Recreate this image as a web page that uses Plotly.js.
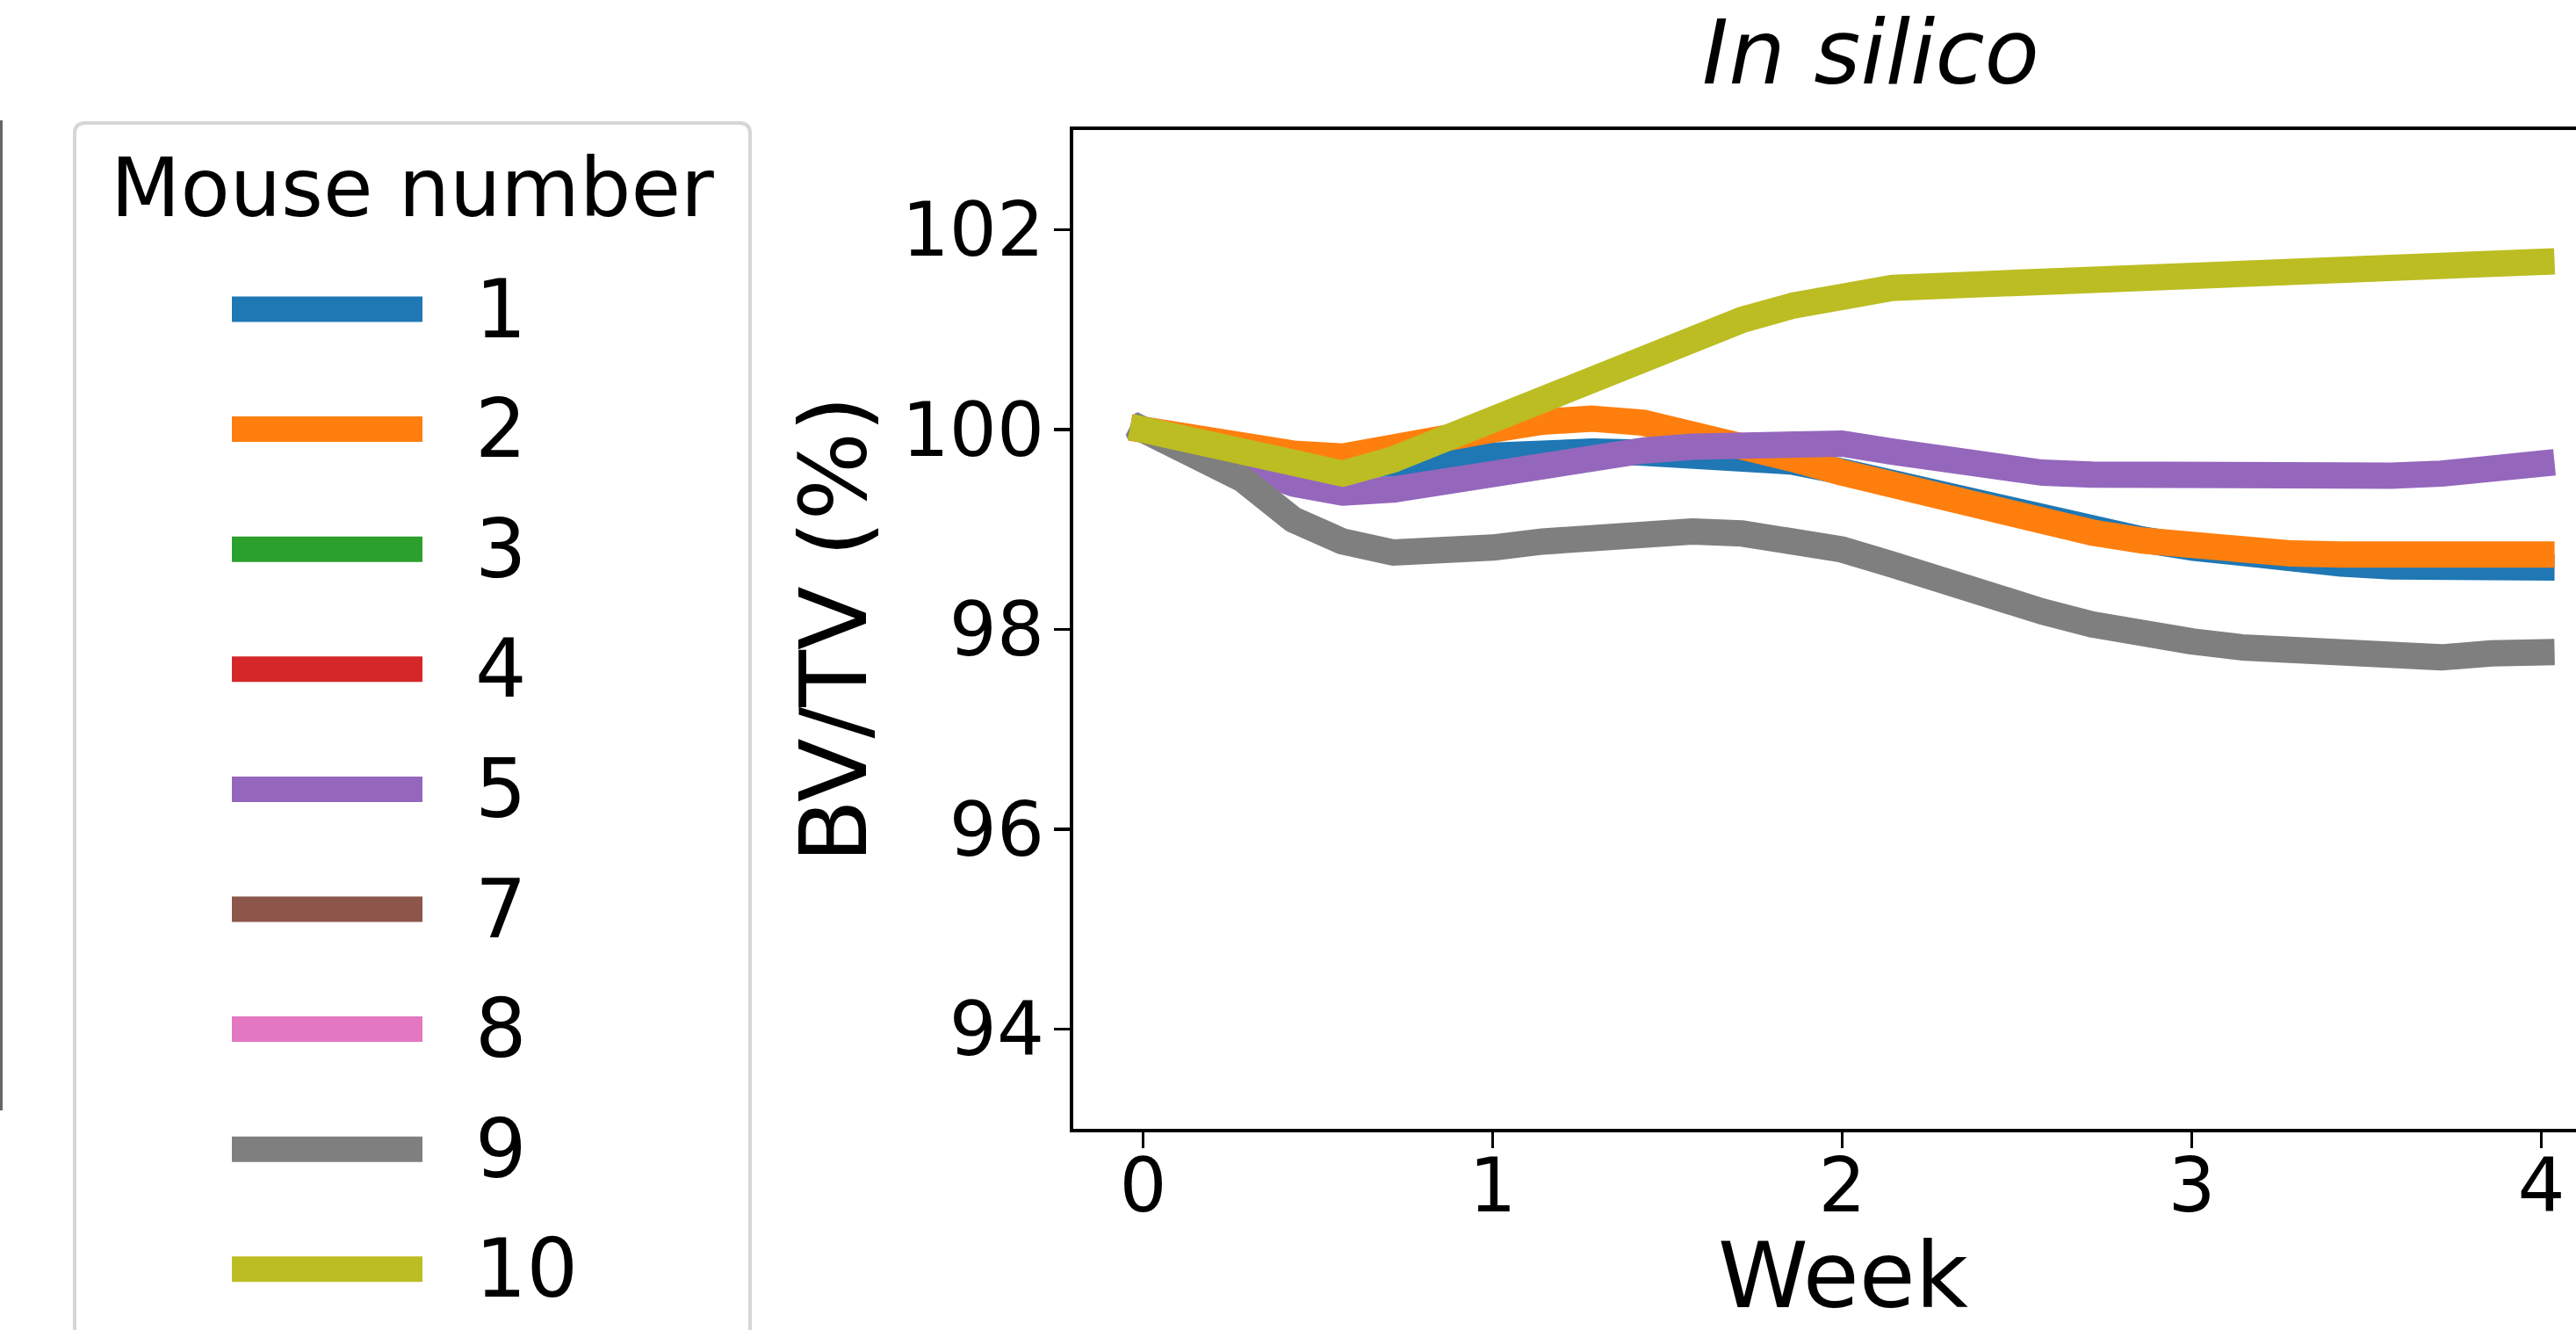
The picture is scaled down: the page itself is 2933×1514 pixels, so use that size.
<!DOCTYPE html>
<html><head><meta charset="utf-8">
<script src="https://cdn.plot.ly/plotly-3.0.1.min.js"></script>
<style>html,body{margin:0;padding:0;background:#fff;overflow:hidden}#chart{width:2933px;height:1514px}</style>
</head><body><div id="chart"></div>
<script>
// ---- data ----
const weeks = [0,0.143,0.286,0.429,0.571,0.714,0.857,1,1.143,1.286,1.429,1.571,1.714,1.857,2,2.143,2.286,2.429,2.571,2.714,2.857,3,3.143,3.286,3.429,3.571,3.714,3.857,4];
const mouse1 = [100.00,99.88,99.78,99.70,99.66,99.63,99.66,99.74,99.78,99.78,99.77,99.76,99.74,99.68,99.58,99.46,99.33,99.20,99.09,98.99,98.90,98.82,98.75,98.70,98.66,98.63,98.61,98.61,98.62];
const mouse2 = [100.00,99.90,99.83,99.76,99.73,99.80,99.92,100.00,100.08,100.11,100.07,99.97,99.85,99.71,99.57,99.44,99.31,99.18,99.06,98.97,98.89,98.83,98.79,98.76,98.75,98.74,98.73,98.74,98.75];
const mouse3 = []; // not visible in the reference
const mouse4 = []; // not visible in the reference
const mouse5 = [100.00,99.85,99.64,99.46,99.37,99.40,99.48,99.58,99.67,99.74,99.79,99.83,99.86,99.88,99.86,99.78,99.69,99.62,99.57,99.55,99.54,99.55,99.56,99.56,99.55,99.54,99.56,99.61,99.66];
const mouse7 = []; // not visible in the reference
const mouse8 = []; // not visible in the reference
const mouse9 = [100.00,99.78,99.50,99.10,98.88,98.77,98.78,98.82,98.88,98.93,98.97,98.98,98.96,98.89,98.80,98.65,98.48,98.33,98.18,98.05,97.95,97.88,97.82,97.78,97.75,97.73,97.72,97.76,97.77];
const mouse10 = [100.00,99.90,99.78,99.65,99.56,99.70,99.90,100.12,100.34,100.54,100.73,100.92,101.10,101.24,101.36,101.42,101.44,101.46,101.48,101.49,101.50,101.50,101.52,101.55,101.58,101.60,101.63,101.66,101.68];
const mouseIds = ['1','2','3','4','5','7','8','9','10'];
const mouseSeries = [mouse1,mouse2,mouse3,mouse4,mouse5,mouse7,mouse8,mouse9,mouse10];
const mouseColors = ['#1f77b4','#ff7f0e','#2ca02c','#d62728','#9467bd','#8c564b','#e377c2','#7f7f7f','#bcbd22'];
const xTicks = [0,1,2,3,4];
const yTicks = [94,96,98,100,102];
const titleText = 'In silico';
const xTitle = 'Week';
const yTitle = 'BV/TV (%)';
const legendTitle = 'Mouse number';

// ---- layout geometry ----
const W = 2933, H = 1514;
const L = 1222, R = 0, T = 148, B = 229;
const PW = W - L - R, PH = H - T - B;
const px2x = p => (p - L) / PW;
const px2y = p => (H - B - p) / PH;
const FONT = 'DejaVu Sans';

const traces = mouseSeries.map((vals, i) => ({
  type: 'scatter', mode: 'lines', name: mouseIds[i],
  x: weeks.slice(0, vals.length), y: vals,
  line: {color: mouseColors[i], width: 30},
  showlegend: false, hoverinfo: 'skip'
}));

const shapes = [];
const annotations = [];
// fragment of neighbouring panel's spine at the left edge
shapes.push({type:'line', xref:'paper', yref:'paper', x0:px2x(1.5), x1:px2x(1.5), y0:px2y(137), y1:px2y(1264), line:{color:'#666', width:3}});
// legend frame (rounded top corners, runs off the bottom)
const fx0 = px2x(85), fx1 = px2x(854), fyTop = px2y(140), fyBot = px2y(1540);
const rx = 12 / PW, ry = 12 / PH;
shapes.push({type:'path', xref:'paper', yref:'paper',
  path:`M ${fx0} ${fyBot} L ${fx0} ${fyTop - ry} Q ${fx0} ${fyTop} ${fx0 + rx} ${fyTop} L ${fx1 - rx} ${fyTop} Q ${fx1} ${fyTop} ${fx1} ${fyTop - ry} L ${fx1} ${fyBot}`,
  line:{color:'#d6d6d6', width:4}});
annotations.push({xref:'paper', yref:'paper', x:px2x(469.5), y:px2y(214.5), xanchor:'center', yanchor:'middle', showarrow:false, text:legendTitle, font:{family:FONT, size:92, color:'#000'}});
mouseIds.forEach((id, i) => {
  const yc = 352 + i * 136.6;
  shapes.push({type:'rect', xref:'paper', yref:'paper', x0:px2x(264), x1:px2x(481), y0:px2y(yc - 14.5), y1:px2y(yc + 14.5), fillcolor:mouseColors[i], line:{width:0}});
  annotations.push({xref:'paper', yref:'paper', x:px2x(539), y:px2y(yc), xanchor:'left', yanchor:'middle', showarrow:false, text:id, font:{family:FONT, size:92, color:'#000'}});
});
// x-axis title (placed as annotation so it can sit close to the bottom edge)
annotations.push({xref:'paper', yref:'paper', x:px2x(2098), y:px2y(1452), xanchor:'center', yanchor:'middle', showarrow:false, text:xTitle, font:{family:FONT, size:104, color:'#000'}});

const layout = {
  width: W, height: H,
  margin: {l: L, r: R, t: T, b: B, pad: 0},
  paper_bgcolor: '#fff', plot_bgcolor: '#fff',
  font: {family: FONT, color: '#000'},
  title: {text: '<i>' + titleText + '</i>', font: {family: FONT, size: 102, color: '#000'}, xref: 'paper', x: px2x(2130), xanchor: 'center', yref: 'container', y: 1 - 59 / H, yanchor: 'middle'},
  xaxis: {range: [-0.2, -0.2 + PW / 398], tickvals: xTicks, ticktext: xTicks.map(String), ticks: 'outside', ticklen: 18, tickwidth: 3.5, tickcolor: '#000',
    showline: true, linecolor: '#000', linewidth: 4, mirror: true, showgrid: false, zeroline: false,
    ticklabelstandoff: -30,
    tickfont: {family: FONT, size: 85, color: '#000'}},
  yaxis: {range: [93, 103], tickvals: yTicks, ticktext: yTicks.map(String), ticks: 'outside', ticklen: 18, tickwidth: 3.5, tickcolor: '#000',
    showline: true, linecolor: '#000', linewidth: 4, mirror: false, showgrid: false, zeroline: false,
    ticklabelstandoff: -6,
    tickfont: {family: FONT, size: 85, color: '#000'},
    title: {text: yTitle, font: {family: FONT, size: 106, color: '#000'}, standoff: 6}},
  shapes: shapes, annotations: annotations
};

Plotly.newPlot('chart', traces, layout, {staticPlot: true, displayModeBar: false}).then(() => {
  document.querySelectorAll('.scatterlayer .js-line').forEach(p => {
    p.style.strokeLinecap = 'square';
    p.style.strokeLinejoin = 'round';
  });
});
</script>
</body></html>
